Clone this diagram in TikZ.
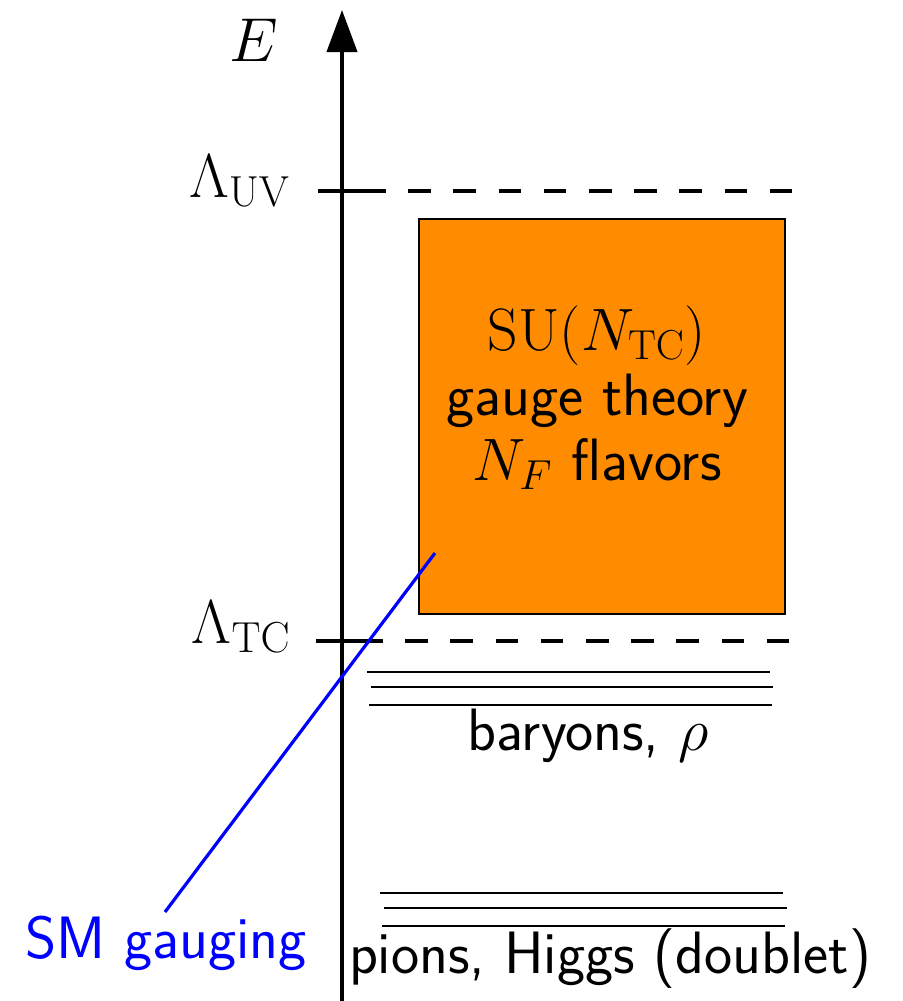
\documentclass[tikz,border=0pt]{standalone}
\usepackage{fix-cm}
\usetikzlibrary{arrows.meta}
\definecolor{boxorange}{RGB}{255,140,0}
\begin{document}
\begin{tikzpicture}[x=0.5pt,y=-0.5pt,
  lbl/.style={font=\fontsize{29.9}{32.5}\selectfont\sffamily, inner sep=0pt},
  mlbl/.style={font=\fontsize{31}{34}\selectfont, inner sep=0pt},
  axisline/.style={line width=2pt},
  scaleline/.style={line width=2pt, dash pattern=on 11.3pt off 11.3pt},
  level/.style={line width=0.8pt},
  gauge/.style={blue, line width=1.6pt}]
\useasboundingbox (0,0) rectangle (902,1001);
% axis
\coordinate (axbot) at (342,1001);
\coordinate (axtop) at (342,10);
\draw[axisline, -{Triangle[length=21pt,width=15pt]}] (axbot) -- (axtop);
\node[mlbl] (E) at (254,40) {$E$};
% scales
\coordinate (uvL) at (318,191);
\coordinate (uvM) at (363,191);
\coordinate (uvR) at (793,191);
\draw[axisline] (uvL) -- (uvM);
\draw[scaleline] (uvM) -- (uvR);
\node[mlbl, anchor=east] (uv) at (291,181) {$\Lambda_{\mathrm{UV}}$};
\coordinate (tcL) at (316,641);
\coordinate (tcM) at (360,641);
\coordinate (tcR) at (793,641);
\draw[axisline] (tcL) -- (tcM);
\draw[scaleline] (tcM) -- (tcR);
\node[mlbl, anchor=east] (tc) at (291,627) {$\Lambda_{\mathrm{TC}}$};
% box
\node[draw=black, line width=0.75pt, fill=boxorange, minimum width=183pt, minimum height=197.5pt, inner sep=0pt] (box) at (602,416.5) {};
\node[lbl, align=center] (boxtext) at (597,398) {$\mathrm{SU}(N_{\mathrm{TC}})$\\gauge theory\\$N_F$ flavors};
% baryon levels
\coordinate (b1a) at (367,672); \coordinate (b1b) at (770,672);
\coordinate (b2a) at (371,687); \coordinate (b2b) at (773,687);
\coordinate (b3a) at (369,705); \coordinate (b3b) at (772,705);
\draw[level] (b1a) -- (b1b);
\draw[level] (b2a) -- (b2b);
\draw[level] (b3a) -- (b3b);
\node[lbl] (bar) at (588,736) {baryons, $\rho$};
% pion levels
\coordinate (p1a) at (380,893); \coordinate (p1b) at (783,893);
\coordinate (p2a) at (384,908); \coordinate (p2b) at (787,908);
\coordinate (p3a) at (382,926); \coordinate (p3b) at (785,926);
\draw[level] (p1a) -- (p1b);
\draw[level] (p2a) -- (p2b);
\draw[level] (p3a) -- (p3b);
\node[lbl] (pions) at (610,959) {pions, Higgs (doublet)};
% SM gauging
\node[lbl, text=blue] (sm) at (166,943) {SM gauging};
\coordinate (gin) at (435,553);
\coordinate (gout) at (165,912);
\draw[gauge] (gout) -- (gin);
\end{tikzpicture}
\end{document}
